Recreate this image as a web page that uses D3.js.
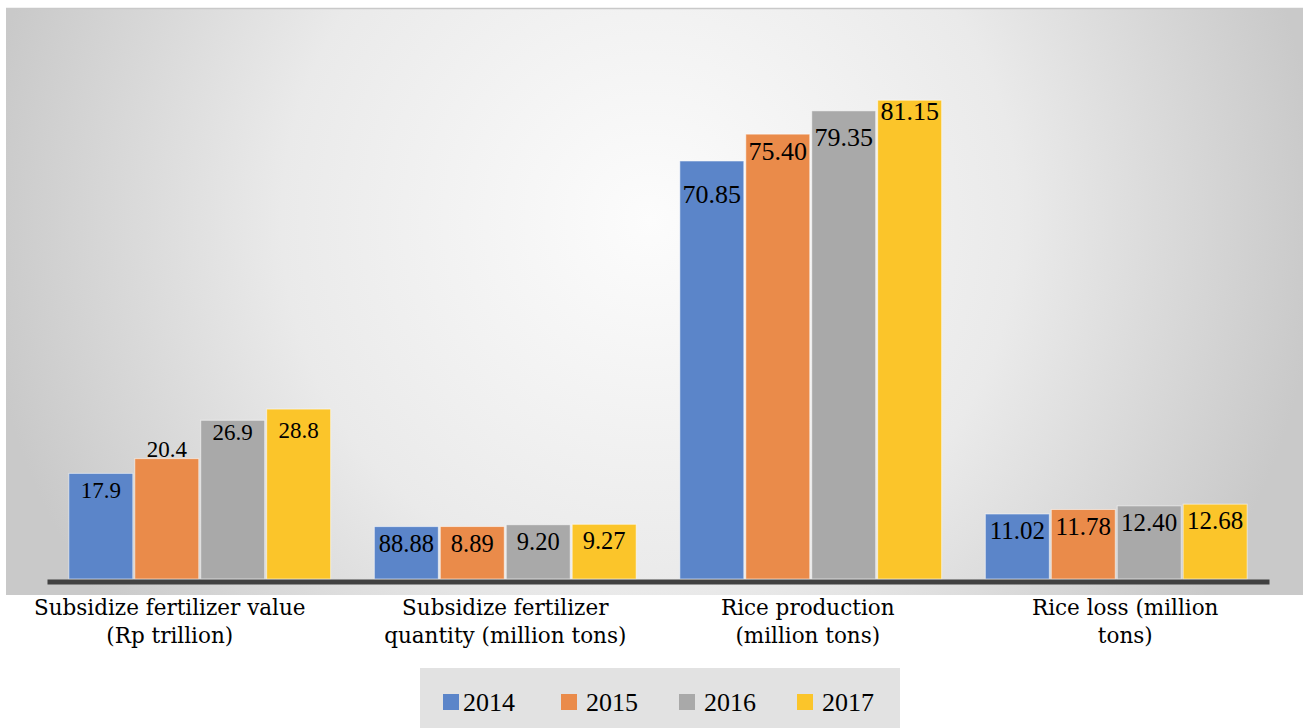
<!DOCTYPE html>
<html>
<head>
<meta charset="utf-8">
<title>Fertilizer subsidy and rice</title>
<script src="https://d3js.org/d3.v7.min.js"></script>
<style>
  body { margin: 0; background: #fff; }
  svg { display: block; }
  text { fill: #000; }
  .value { font-family: "Liberation Serif", serif; }
  .cat { font-family: "DejaVu Serif", serif; font-size: 21.5px; }
  .legend text { font-family: "Liberation Serif", serif; font-size: 26px; }
  .xaxis path.domain { stroke: #414141; stroke-width: 5; }
</style>
</head>
<body>
<svg width="1303" height="728"></svg>
<script>
// data
const categories = [
  'Subsidize fertilizer value (Rp trillion)',
  'Subsidize fertilizer quantity (million tons)',
  'Rice production (million tons)',
  'Rice loss (million tons)'
];
const categoryLines = [
  ['Subsidize fertilizer value', '(Rp trillion)'],
  ['Subsidize fertilizer', 'quantity (million tons)'],
  ['Rice production', '(million tons)'],
  ['Rice loss (million', 'tons)']
];
const years = ['2014', '2015', '2016', '2017'];
const v2014 = [17.9, 8.88, 70.85, 11.02];
const v2015 = [20.4, 8.89, 75.40, 11.78];
const v2016 = [26.9, 9.20, 79.35, 12.40];
const v2017 = [28.8, 9.27, 81.15, 12.68];
// labels as printed in the figure
const l2014 = ['17.9', '88.88', '70.85', '11.02'];
const l2015 = ['20.4', '8.89', '75.40', '11.78'];
const l2016 = ['26.9', '9.20', '79.35', '12.40'];
const l2017 = ['28.8', '9.27', '81.15', '12.68'];
const colors = ['#5b85c9', '#ea8b4a', '#a9a9a9', '#fbc52a'];

const series = [v2014, v2015, v2016, v2017];
const labels = [l2014, l2015, l2016, l2017];

// styling tweaks copied from the original figure
const valueFontSize = [23, 24.5, 26, 25];      // per category group
const labelNudge = { '20.4': -26, '70.85': 16, '79.35': 10, '81.15': -6, '26.9': -5, '28.8': 4 };
const catLabelShift = [-30, 0, -3, 9];

const svg = d3.select('svg');
const W = 1303, H = 728;

// background panel
const defs = svg.append('defs');
const grad = defs.append('radialGradient')
  .attr('id', 'bg')
  .attr('gradientUnits', 'userSpaceOnUse')
  .attr('cx', 650).attr('cy', 220).attr('r', 670);
grad.append('stop').attr('offset', 0).attr('stop-color', '#fcfcfc');
grad.append('stop').attr('offset', 0.55).attr('stop-color', '#eaeaea');
grad.append('stop').attr('offset', 1).attr('stop-color', '#c9c9c9');

svg.append('rect')
  .attr('x', 6).attr('y', 8)
  .attr('width', W - 6).attr('height', 587)
  .attr('fill', 'url(#bg)');
svg.append('line')
  .attr('x1', 6).attr('x2', W).attr('y1', 8.5).attr('y2', 8.5)
  .attr('stroke', '#c9c9c9').attr('stroke-width', 1.5);

// scales
const x0 = d3.scaleBand()
  .domain(categories)
  .range([47, 1269])
  .paddingInner(0.143)
  .paddingOuter(0.0715);

const x1 = d3.scaleBand()
  .domain(years)
  .range([0, x0.bandwidth()])
  .paddingInner(0.03);

const y = d3.scaleLinear()
  .domain([0, 100])
  .range([579, -11]);

const chart = svg.append('g');

// bars
const groups = chart.selectAll('g.grp')
  .data(categories)
  .join('g')
  .attr('class', 'grp')
  .attr('transform', d => `translate(${x0(d)},0)`);

const cells = (c, ci) => years.map((yr, si) => ({ yr, ci, si, v: series[si][ci], label: labels[si][ci] }));

groups.selectAll('rect')
  .data(cells)
  .join('rect')
  .attr('x', d => x1(d.yr))
  .attr('y', d => y(d.v))
  .attr('width', x1.bandwidth())
  .attr('height', d => y(0) - y(d.v))
  .attr('fill', d => colors[d.si])
  .attr('stroke', 'rgba(255,255,255,0.55)')
  .attr('stroke-width', 1);

groups.selectAll('text.value')
  .data(cells)
  .join('text')
  .attr('class', 'value')
  .attr('x', d => x1(d.yr) + x1.bandwidth() / 2)
  .attr('y', d => y(d.v) + 17 + (labelNudge[d.label] || 0))
  .attr('dy', '0.33em')
  .attr('text-anchor', 'middle')
  .style('font-size', d => valueFontSize[d.ci] + 'px')
  .text(d => d.label);

// category axis (its domain line is the thick baseline)
const xAxis = chart.append('g')
  .attr('class', 'xaxis')
  .attr('transform', 'translate(0,581.5)')
  .call(d3.axisBottom(x0).tickSize(0).tickSizeOuter(0).tickFormat(''));

xAxis.selectAll('.tick text').remove();
xAxis.selectAll('.tick')
  .append('text')
  .attr('class', 'cat')
  .attr('text-anchor', 'middle')
  .each(function (d) {
    const ci = categories.indexOf(d);
    d3.select(this).selectAll('tspan')
      .data(categoryLines[ci])
      .join('tspan')
      .attr('x', catLabelShift[ci])
      .attr('y', (l, i) => 33 + i * 28)
      .text(l => l);
  });

// legend
const legend = svg.append('g').attr('class', 'legend');
legend.append('rect')
  .attr('x', 420).attr('y', 668)
  .attr('width', 480).attr('height', 60)
  .attr('fill', '#e2e2e2');

const legendX = d3.scalePoint()
  .domain(years)
  .range([443, 797]);

const items = legend.selectAll('g.item')
  .data(years)
  .join('g')
  .attr('class', 'item')
  .attr('transform', d => `translate(${legendX(d)},702)`);

items.append('rect')
  .attr('x', 0).attr('y', -8)
  .attr('width', 16).attr('height', 16)
  .attr('fill', (d, i) => colors[i]);

items.append('text')
  .attr('x', (d, i) => i === 0 ? 20 : 25)
  .attr('dy', '0.33em')
  .text(d => d);
</script>
</body>
</html>
